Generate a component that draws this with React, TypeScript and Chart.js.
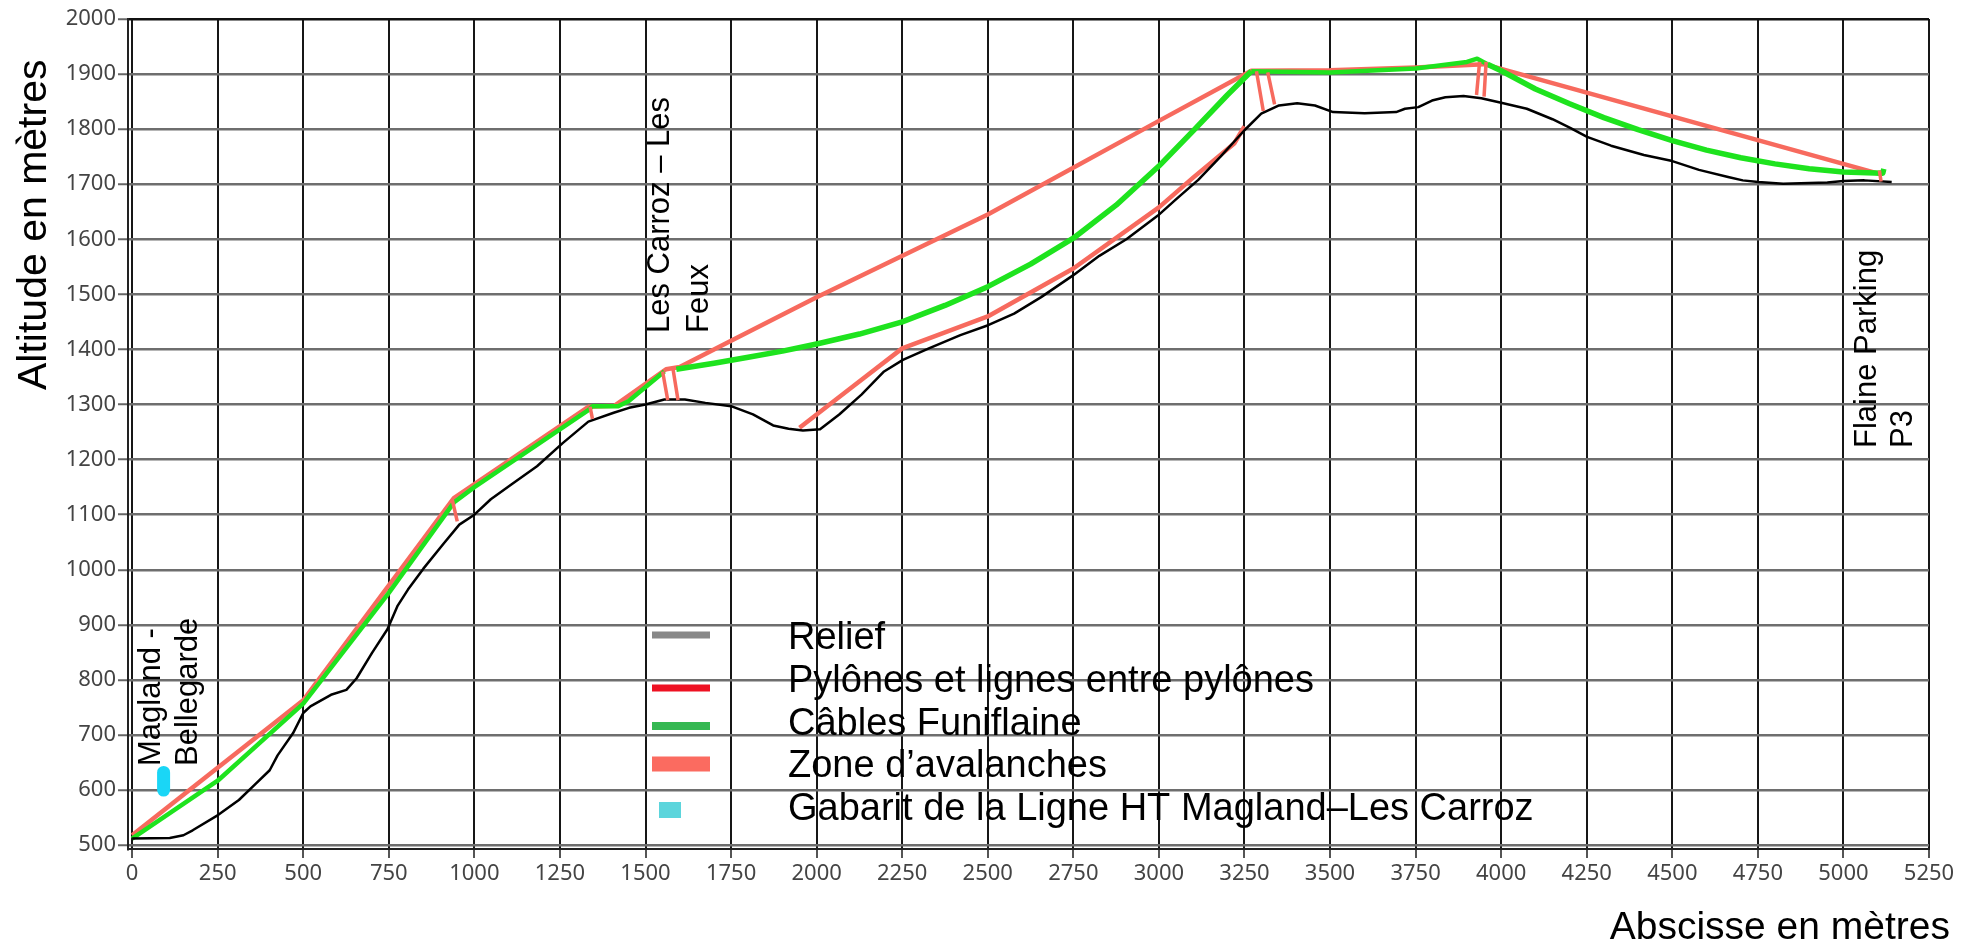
import { useEffect, useRef } from "react";
import { Chart, registerables } from "chart.js";

Chart.register(...registerables);

const xTicks = [0, 250, 500, 750, 1000, 1250, 1500, 1750, 2000, 2250, 2500, 2750, 3000, 3250, 3500, 3750, 4000, 4250, 4500, 4750, 5000, 5250];
const yTicks = [500, 600, 700, 800, 900, 1000, 1100, 1200, 1300, 1400, 1500, 1600, 1700, 1800, 1900, 2000];

const relief: [number, number][] = [
  [0, 512], [110, 513], [150, 518], [177, 527], [252, 555], [312, 582], [357, 609], [402, 636], [425, 663],
  [470, 703], [500, 740], [521, 752], [581, 773], [626, 782], [656, 803], [701, 849], [746, 892], [776, 935],
  [806, 964], [851, 1002], [911, 1048], [956, 1082], [1000, 1100], [1048, 1128], [1108, 1155], [1183, 1188],
  [1258, 1230], [1333, 1269], [1407, 1285], [1452, 1294], [1500, 1300], [1555, 1309], [1615, 1309], [1675, 1303],
  [1750, 1297], [1814, 1282], [1873, 1262], [1918, 1256], [1960, 1253], [2010, 1255], [2066, 1282], [2131, 1318],
  [2197, 1360], [2252, 1381], [2328, 1402], [2420, 1426], [2501, 1444], [2577, 1465], [2656, 1495], [2748, 1534],
  [2826, 1570], [2905, 1600], [2997, 1643], [3049, 1672], [3115, 1708], [3180, 1750], [3250, 1798], [3299, 1828],
  [3351, 1843], [3404, 1847], [3456, 1843], [3509, 1831], [3601, 1829], [3693, 1831], [3719, 1837], [3758, 1840],
  [3798, 1852], [3837, 1858], [3890, 1860], [3942, 1856], [4000, 1848], [4075, 1837], [4150, 1818], [4203, 1802],
  [4251, 1786], [4321, 1770], [4417, 1753], [4500, 1742], [4578, 1726], [4663, 1713], [4706, 1707], [4751, 1704],
  [4824, 1701], [4953, 1703], [5000, 1706], [5061, 1707], [5141, 1704],
];

const cableLower: [number, number][] = [
  [0, 512], [250, 617], [500, 757], [750, 958], [940, 1122], [1000, 1150], [1333, 1290], [1345, 1297],
  [1420, 1297], [1450, 1306], [1555, 1360],
];
const cableMain: [number, number][] = [
  [1590, 1364], [1700, 1375], [1800, 1386], [1900, 1397], [2000, 1410], [2125, 1428], [2250, 1450],
  [2375, 1480], [2500, 1514], [2625, 1555], [2750, 1602], [2875, 1662], [3000, 1733], [3100, 1797],
  [3200, 1862], [3270, 1905],
];
const cableSummit: [number, number][] = [
  [3270, 1905], [3500, 1903], [3750, 1910], [3900, 1922], [3930, 1928], [3960, 1918],
];
const cableFlaine: [number, number][] = [
  [3960, 1918], [4000, 1906], [4100, 1873], [4200, 1846], [4300, 1821], [4400, 1799], [4500, 1779],
  [4600, 1762], [4700, 1748], [4800, 1737], [4900, 1728], [5000, 1722], [5115, 1720], [5118, 1728],
];

const lineUpper: [number, number][] = [
  [0, 518], [500, 763], [940, 1130], [1333, 1296], [1410, 1298], [1560, 1364], [1600, 1368], [1750, 1416],
  [2000, 1495], [2500, 1645], [3000, 1815], [3270, 1906], [3500, 1907], [3750, 1912], [3950, 1918], [5110, 1718],
];
const lineLower: [number, number][] = [
  [1950, 1258], [2100, 1330], [2250, 1402], [2500, 1460], [2750, 1547], [3000, 1658], [3100, 1712],
  [3220, 1774], [3250, 1805],
];

const pylons: [number, number][][] = [
  [[935, 1128], [950, 1088]],
  [[1338, 1296], [1345, 1274]],
  [[1550, 1360], [1565, 1308]],
  [[1580, 1366], [1595, 1308]],
  [[3285, 1905], [3305, 1833]],
  [[3318, 1903], [3338, 1845]],
  [[3937, 1922], [3928, 1862]],
  [[3956, 1922], [3950, 1859]],
  [[5105, 1725], [5110, 1705]],
];

const gabarit: [number, number][] = [[92, 600], [92, 632]];

const legendLabels = [
  "Relief",
  "Pylônes et lignes entre pylônes",
  "Câbles Funiflaine",
  "Zone d’avalanches",
  "Gabarit de la Ligne HT Magland–Les Carroz",
];
const stationMagland = ["Magland -", "Bellegarde"];
const stationCarroz = ["Les Carroz – Les", "Feux"];
const stationFlaine = ["Flaine Parking", "P3"];
const yTitle = "Altitude en mètres";
const xTitle = "Abscisse en mètres";

const GREEN = "#1ee31e";
const SALMON = "#f76a5e";
const FONT = "'Liberation Sans', Arial, sans-serif";

const toPts = (a: [number, number][]) => a.map(([x, y]) => ({ x, y }));
const pylonPts = () => {
  const out: { x: number; y: number | null }[] = [];
  pylons.forEach((seg) => {
    seg.forEach(([x, y]) => out.push({ x, y }));
    out.push({ x: seg[1][0], y: null });
  });
  return out;
};

const overlay = {
  id: "overlay",
  beforeDraw(chart: any) {
    const ctx = chart.ctx;
    ctx.save();
    ctx.fillStyle = "#ffffff";
    ctx.fillRect(0, 0, chart.width, chart.height);
    ctx.restore();
  },
  afterDraw(chart: any) {
    const ctx = chart.ctx as CanvasRenderingContext2D;
    ctx.save();
    ctx.fillStyle = "#000";
    ctx.textBaseline = "middle";
    ctx.save();
    ctx.font = `41px ${FONT}`;
    ctx.translate(35, 390);
    ctx.rotate(-Math.PI / 2);
    ctx.textAlign = "left";
    ctx.fillText(yTitle, 0, 0);
    ctx.restore();
    ctx.font = `39px ${FONT}`;
    ctx.textAlign = "right";
    ctx.fillText(xTitle, 1950, 928);

    const rot = (lines: string[], x: number, y: number, gap: number) => {
      ctx.save();
      ctx.translate(x, y);
      ctx.rotate(-Math.PI / 2);
      ctx.textAlign = "left";
      ctx.textBaseline = "middle";
      ctx.font = `31px ${FONT}`;
      lines.forEach((l, i) => ctx.fillText(l, 0, i * gap));
      ctx.restore();
    };
    rot(stationMagland, 151, 766, 37);
    rot(stationCarroz, 660, 333, 39);
    rot(stationFlaine, 1867, 448, 36);

    const sw = [
      { c: "#888888", y: 635, h: 7, x: 652, w: 58 },
      { c: "#ee1122", y: 688, h: 7, x: 652, w: 58 },
      { c: "#35b852", y: 726, h: 8, x: 652, w: 58 },
      { c: "#fb6b60", y: 764, h: 15, x: 652, w: 58 },
      { c: "#5cd5dc", y: 810, h: 16, x: 659, w: 22 },
    ];
    const ty = [639, 682, 725, 767, 810];
    legendLabels.forEach((t, i) => {
      const s = sw[i];
      ctx.fillStyle = s.c;
      ctx.fillRect(s.x, s.y - s.h / 2, s.w, s.h);
      ctx.fillStyle = "#000";
      ctx.font = `38px ${FONT}`;
      ctx.textAlign = "left";
      ctx.textBaseline = "middle";
      ctx.fillText(t, 788, ty[i]);
    });
    ctx.restore();
  },
};

export default function App() {
  const ref = useRef<HTMLCanvasElement | null>(null);
  useEffect(() => {
    document.body.style.margin = "0";
    if (!ref.current) return;
    const line = (data: any[], color: string, width: number, order: number) => ({
      data,
      borderColor: color,
      backgroundColor: color,
      borderWidth: width,
      pointRadius: 0,
      fill: false,
      tension: 0,
      spanGaps: false,
      borderJoinStyle: "round",
      order,
    });
    const chart = new Chart(ref.current, {
      type: "line",
      data: {
        datasets: [
          line(pylonPts(), SALMON, 3.5, 0),
          line(toPts(relief), "#000000", 2.5, 1),
          line(toPts(cableLower), GREEN, 4.5, 2),
          line(toPts(cableMain), GREEN, 5.5, 2),
          line(toPts(cableSummit), GREEN, 4.5, 2),
          line(toPts(cableFlaine), GREEN, 5.5, 2),
          line(toPts(lineUpper), SALMON, 4.5, 3),
          line(toPts(lineLower), SALMON, 4.5, 3),
          { ...line(toPts(gabarit), "#1ad6f6", 13, 4), borderCapStyle: "round" },
        ] as any,
      },
      options: {
        animation: false,
        responsive: false,
        devicePixelRatio: 1,
        layout: { padding: { top: 19, right: 41, left: 0, bottom: 0 } },
        plugins: { legend: { display: false }, tooltip: { enabled: false }, title: { display: false } },
        scales: {
          x: {
            type: "linear",
            min: -12,
            max: 5250,
            afterBuildTicks: (s: any) => {
              s.ticks = xTicks.map((v) => ({ value: v }));
            },
            afterFit: (s: any) => {
              s.height = 99;
            },
            grid: { color: "#161616", lineWidth: 2, tickLength: 9, tickColor: "#555", tickWidth: 2 },
            border: { display: true, color: "#222", width: 2 },
            ticks: {
              font: { family: "'Noto Sans'", size: 22 },
              color: "#444",
              padding: 3,
              maxRotation: 0,
              autoSkip: false,
              callback: (v: any) => String(v),
            },
          },
          y: {
            type: "linear",
            min: 493,
            max: 2000,
            afterBuildTicks: (s: any) => {
              s.ticks = yTicks.map((v) => ({ value: v }));
            },
            afterFit: (s: any) => {
              s.width = 128;
            },
            grid: {
              color: (c: any) => (c.tick && c.tick.value === 2000 ? "#111" : "#6e6e6e"),
              lineWidth: 2.5,
              tickLength: 10,
              tickColor: "#666",
              tickWidth: 2,
            },
            border: { display: true, color: "#222", width: 2 },
            ticks: {
              font: { family: "'Noto Sans'", size: 22 },
              color: "#444",
              padding: 2,
              autoSkip: false,
              callback: (v: any) => String(v),
            },
          },
        },
      },
      plugins: [overlay],
    });
    return () => chart.destroy();
  }, []);
  return (
    <div style={{ width: 1970, height: 948 }}>
      <canvas ref={ref} width={1970} height={948} style={{ display: "block", width: 1970, height: 948 }} />
    </div>
  );
}
